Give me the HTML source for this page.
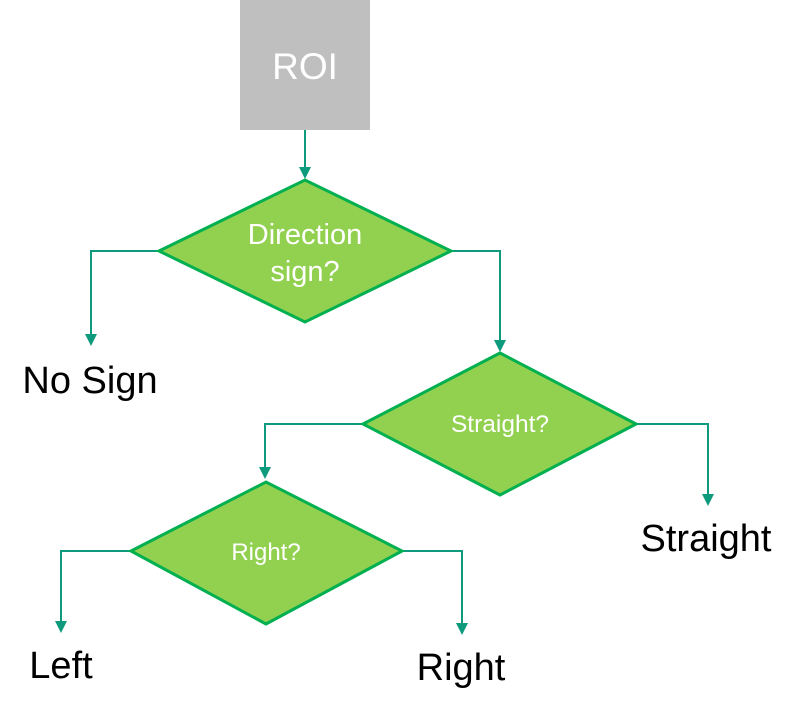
<!DOCTYPE html>
<html><head><style>html,body{margin:0;padding:0;background:#fff;}</style></head>
<body>
<svg width="793" height="711" viewBox="0 0 793 711" xmlns="http://www.w3.org/2000/svg" font-family="Liberation Sans, Arial, sans-serif">
<rect x="240" y="0" width="130" height="130" fill="#bfbfbf"/>
<text x="305" y="79" font-size="37" fill="#fff" text-anchor="middle">ROI</text>
<g stroke="#0e9a7c" stroke-width="2" fill="none">
<path d="M305,130 V170"/>
<path d="M159,251 H91 V337"/>
<path d="M451,251 H500 V343"/>
<path d="M363,424 H265 V470"/>
<path d="M636,424 H708 V497"/>
<path d="M131,551 H61 V624"/>
<path d="M402,551 H462 V626"/>
</g>
<g fill="#0e9a7c">
<path d="M299,167 L311,167 L305,179 z"/>
<path d="M85,334 L97,334 L91,346 z"/>
<path d="M494,340 L506,340 L500,352 z"/>
<path d="M259,467 L271,467 L265,479 z"/>
<path d="M702,494 L714,494 L708,506 z"/>
<path d="M55,621 L67,621 L61,633 z"/>
<path d="M456,623 L468,623 L462,635 z"/>
</g>
<g fill="#92d050" stroke="#00b050" stroke-width="3">
<polygon points="159,251 305,180 451,251 305,322"/>
<polygon points="363,424 500,353 636,424 500,495"/>
<polygon points="131,551 266,482 402,551 266,624"/>
</g>
<g fill="#fff" text-anchor="middle">
<text x="305" y="244" font-size="29">Direction</text>
<text x="305" y="281" font-size="29">sign?</text>
<text x="500" y="432" font-size="24.5">Straight?</text>
<text x="266" y="560" font-size="24">Right?</text>
</g>
<g fill="#000" text-anchor="middle" font-size="38">
<text x="90" y="393">No Sign</text>
<text x="706" y="551">Straight</text>
<text x="61" y="678">Left</text>
<text x="461" y="680">Right</text>
</g>
</svg>
</body></html>
